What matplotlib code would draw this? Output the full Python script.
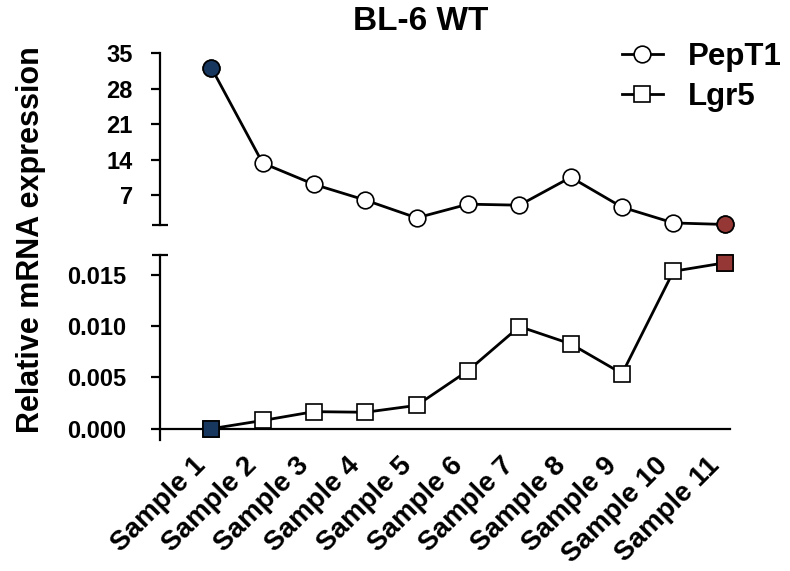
"""BL-6 WT: PepT1 / Lgr5 relative expression across samples (split y axis)."""
import matplotlib
matplotlib.use("Agg")
import matplotlib.pyplot as plt
from matplotlib.lines import Line2D

plt.rcParams["font.family"] = ["Liberation Sans", "DejaVu Sans"]
plt.rcParams["font.weight"] = "bold"

SAMPLES = [f"Sample {i}" for i in range(1, 12)]
PEPT1 = [32.1, 13.3, 9.1, 6.0, 2.5, 5.2, 5.0, 10.5, 4.6, 1.5, 1.2]
LGR5 = [0.0, 0.0008, 0.00166, 0.0016, 0.00227, 0.00565, 0.00994,
        0.00825, 0.00536, 0.01532, 0.01614]
TOP_TICKS = [7, 14, 21, 28, 35]
BOT_TICKS = [0.0, 0.005, 0.010, 0.015]

BLUE = "#17375E"
RED = "#953735"
LW = 2.0
SPINE_LW = 1.6


def style_left(ax, pad):
    for s in ["top", "right"]:
        ax.spines[s].set_visible(False)
    ax.spines["left"].set_linewidth(SPINE_LW)
    ax.tick_params(axis="y", direction="out", length=6.5, width=SPINE_LW,
                   labelsize=17, pad=pad)


fig = plt.figure(figsize=(7.9, 5.71), dpi=100)
ax_top = fig.add_axes([0.2025, 0.606, 0.7215, 0.3012])
ax_bot = fig.add_axes([0.2025, 0.2294, 0.7215, 0.324])

x = list(range(len(SAMPLES)))

# top panel: PepT1
ax_top.plot(x, PEPT1, color="black", lw=LW, marker="o", ms=12,
            mfc="white", mec="black", mew=1.2, clip_on=False, zorder=3)
ax_top.plot(x[0], PEPT1[0], "o", ms=12, mfc=BLUE, mec="black", mew=1.2,
            clip_on=False, zorder=4)
ax_top.plot(x[-1], PEPT1[-1], "o", ms=12, mfc=RED, mec="black", mew=1.2,
            clip_on=False, zorder=4)
ax_top.set_xlim(-1.0, 10.1)
ax_top.set_ylim(1.1, 35)
ax_top.set_yticks(TOP_TICKS)
ax_top.spines["bottom"].set_visible(False)
ax_top.set_xticks([])
style_left(ax_top, 13)
ax_top.plot([0], [0], marker="_", ms=11, mew=SPINE_LW, color="black",
            transform=ax_top.transAxes, clip_on=False)

# bottom panel: Lgr5
ax_bot.plot(x, LGR5, color="black", lw=LW, marker="s", ms=11,
            mfc="white", mec="black", mew=1.2, clip_on=False, zorder=3)
ax_bot.plot(x[0], LGR5[0], "s", ms=11, mfc=BLUE, mec="black", mew=1.2,
            clip_on=False, zorder=4)
ax_bot.plot(x[-1], LGR5[-1], "s", ms=11, mfc=RED, mec="black", mew=1.2,
            clip_on=False, zorder=4)
ax_bot.set_xlim(-1.0, 10.1)
ax_bot.set_ylim(-0.0011, 0.0169)
ax_bot.set_yticks(BOT_TICKS)
ax_bot.set_yticklabels([f"{v:.3f}" for v in BOT_TICKS])
style_left(ax_bot, 18)
ax_bot.spines["bottom"].set_position(("data", 0))
ax_bot.spines["bottom"].set_linewidth(SPINE_LW)
ax_bot.set_xticks(x)
ax_bot.set_xticklabels(SAMPLES, rotation=45, ha="right", fontsize=20)
ax_bot.tick_params(axis="x", length=0, pad=17)
ax_bot.plot([0], [1], marker="_", ms=11, mew=SPINE_LW, color="black",
            transform=ax_bot.transAxes, clip_on=False)

fig.text(0.532, 0.962, "BL-6 WT", ha="center", va="center", fontsize=24,
         fontweight="bold")
fig.text(0.039, 0.581, "Relative mRNA expression", rotation=90, ha="center",
         va="center", fontsize=22, fontweight="bold")

handles = [
    Line2D([], [], color="black", lw=LW, marker="o", ms=12, mfc="white",
           mec="black", mew=1.2),
    Line2D([], [], color="black", lw=LW, marker="s", ms=11, mfc="white",
           mec="black", mew=1.2),
]
fig.legend(handles, ["PepT1", "Lgr5"], loc="upper right",
           bbox_to_anchor=(1.025, 0.975), frameon=False, fontsize=22.5,
           handlelength=1.3, handletextpad=0.8, labelspacing=0.3)

plt.savefig("out.png", dpi=100)
plt.close()
